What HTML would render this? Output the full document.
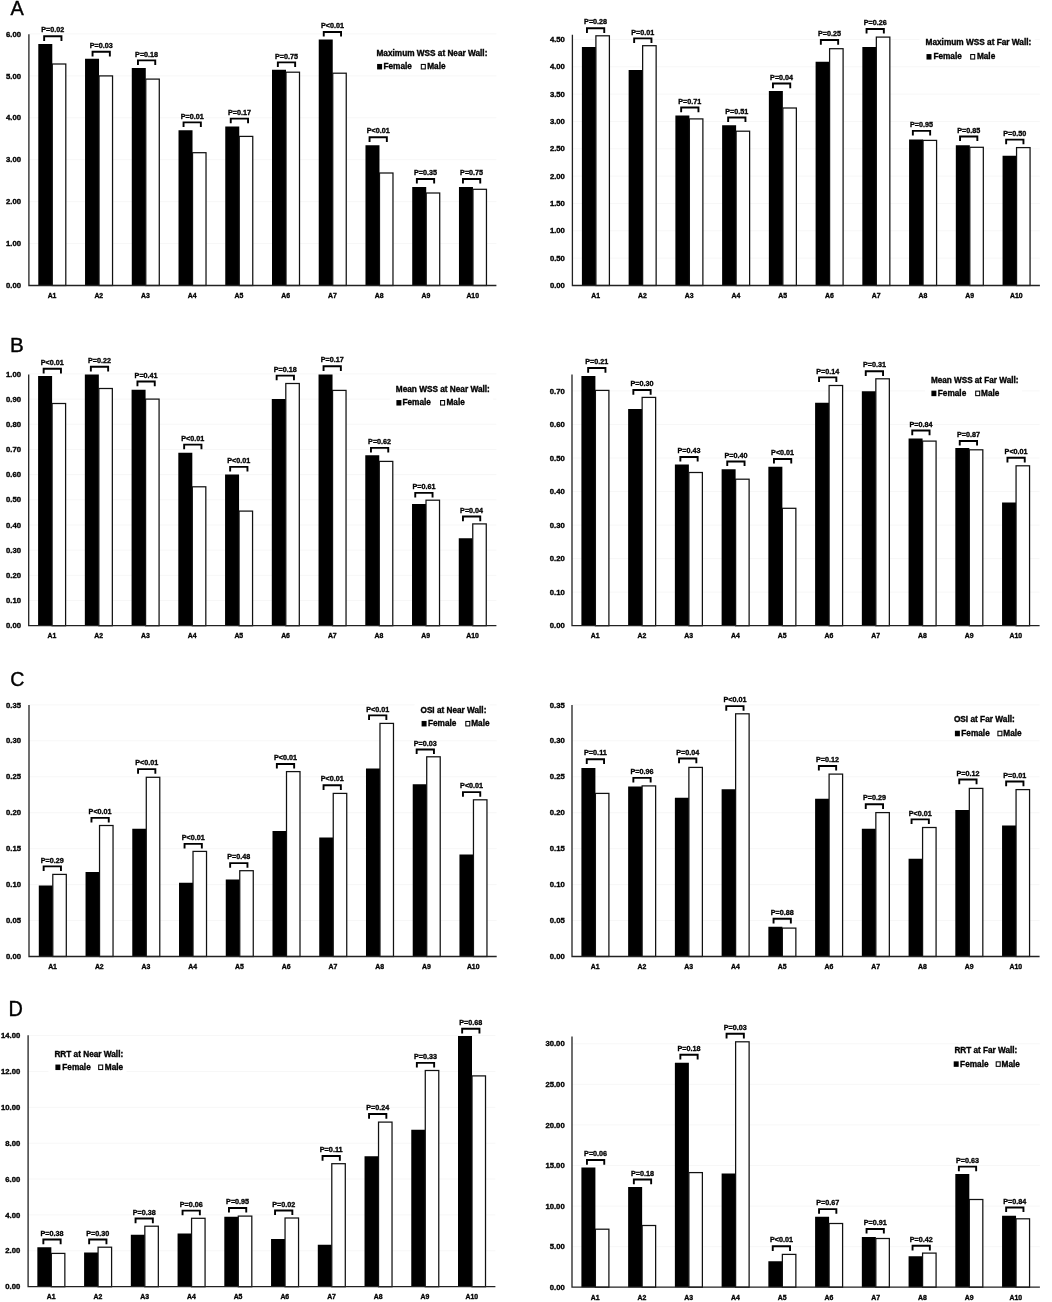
<!DOCTYPE html>
<html><head><meta charset="utf-8"><title>Charts</title>
<style>
html,body{margin:0;padding:0;background:#fff;}
body{width:1052px;height:1302px;overflow:hidden;}
svg{display:block;font-family:"Liberation Sans",sans-serif;font-weight:bold;fill:#000;}
</style></head><body>
<svg width="1052" height="1302" viewBox="0 0 1052 1302">
<rect x="0" y="0" width="1052" height="1302" fill="#fff"/>
<path d="M28.9 243.57H496.4M28.9 201.64H496.4M28.9 159.71H496.4M28.9 117.78H496.4M28.9 75.85H496.4M28.9 33.92H496.4" stroke="#f7f7f7" stroke-width="1.0" fill="none"/>
<rect x="370.5" y="47.75" width="120.3" height="23.95" fill="#fff"/>
<path d="M38.3 285.5V44H52.3V285.5ZM85.04 285.5V58.8H99.04V285.5ZM131.78 285.5V68H145.78V285.5ZM178.52 285.5V130.3H192.52V285.5ZM225.26 285.5V126.5H239.26V285.5ZM272 285.5V69.7H286V285.5ZM318.74 285.5V39.5H332.74V285.5ZM365.48 285.5V145.3H379.48V285.5ZM412.22 285.5V186.9H426.22V285.5ZM458.96 285.5V186.9H472.96V285.5Z" fill="#000"/>
<g fill="#fff" stroke="#111" stroke-width="1.25"><rect x="52.3" y="64" width="13.5" height="221.5"/><rect x="99.04" y="75.9" width="13.5" height="209.6"/><rect x="145.78" y="79.1" width="13.5" height="206.4"/><rect x="192.52" y="152.7" width="13.5" height="132.8"/><rect x="239.26" y="136.4" width="13.5" height="149.1"/><rect x="286" y="72.2" width="13.5" height="213.3"/><rect x="332.74" y="73.2" width="13.5" height="212.3"/><rect x="379.48" y="173" width="13.5" height="112.5"/><rect x="426.22" y="193" width="13.5" height="92.5"/><rect x="472.96" y="189.3" width="13.5" height="96.2"/></g>
<path d="M28.9 34.2V285.5H496.4" stroke="#222" stroke-width="1.3" fill="none"/>
<path d="M44.15 40.9V36.25H61.45V40.9M92.55 56.4V51.75H109.85V56.4M137.95 65V60.35H155.25V65M183.55 127V122.35H200.85V127M230.75 123.3V118.65H248.05V123.3M277.85 67V62.35H295.15V67M323.75 36.6V31.95H341.05V36.6M369.55 141.9V137.25H386.85V141.9M416.85 183.6V178.95H434.15V183.6M462.95 183.6V178.95H480.25V183.6" stroke="#000" stroke-width="1.9" fill="none"/>
<rect x="377.1" y="63.95" width="5" height="5.5" fill="#000"/>
<rect x="421.3" y="64.45" width="4" height="4.5" fill="#fff" stroke="#000" stroke-width="1.05"/>
<path d="M572.4 258.17H1039.9M572.4 230.83H1039.9M572.4 203.5H1039.9M572.4 176.16H1039.9M572.4 148.82H1039.9M572.4 121.49H1039.9M572.4 94.16H1039.9M572.4 66.82H1039.9M572.4 39.48H1039.9" stroke="#f7f7f7" stroke-width="1.0" fill="none"/>
<rect x="919.5" y="36.8" width="115.2" height="25" fill="#fff"/>
<path d="M581.9 285.5V47H595.9V285.5ZM628.64 285.5V69.9H642.64V285.5ZM675.38 285.5V115.4H689.38V285.5ZM722.12 285.5V125.3H736.12V285.5ZM768.86 285.5V91H782.86V285.5ZM815.6 285.5V61.8H829.6V285.5ZM862.34 285.5V47H876.34V285.5ZM909.08 285.5V139.6H923.08V285.5ZM955.82 285.5V145.3H969.82V285.5ZM1002.56 285.5V155.7H1016.56V285.5Z" fill="#000"/>
<g fill="#fff" stroke="#111" stroke-width="1.25"><rect x="595.9" y="35.8" width="13.5" height="249.7"/><rect x="642.64" y="45.7" width="13.5" height="239.8"/><rect x="689.38" y="118.9" width="13.5" height="166.6"/><rect x="736.12" y="131.2" width="13.5" height="154.3"/><rect x="782.86" y="108" width="13.5" height="177.5"/><rect x="829.6" y="48.7" width="13.5" height="236.8"/><rect x="876.34" y="37.1" width="13.5" height="248.4"/><rect x="923.08" y="140.4" width="13.5" height="145.1"/><rect x="969.82" y="147.3" width="13.5" height="138.2"/><rect x="1016.56" y="147.6" width="13.5" height="137.9"/></g>
<path d="M572.4 34.7V285.5H1039.9" stroke="#222" stroke-width="1.3" fill="none"/>
<path d="M586.95 32.9V28.25H604.25V32.9M634.15 43V38.35H651.45V43M681.15 112.2V107.55H698.45V112.2M728.15 122.1V117.45H745.45V122.1M772.95 88.2V83.55H790.25V88.2M820.85 44.7V40.05H838.15V44.7M866.55 33.6V28.95H883.85V33.6M912.85 135.5V130.85H930.15V135.5M960.05 141.1V136.45H977.35V141.1M1006.15 144.3V139.65H1023.45V144.3" stroke="#000" stroke-width="1.9" fill="none"/>
<rect x="926.5" y="54.05" width="5" height="5.5" fill="#000"/>
<rect x="970.7" y="54.55" width="4" height="4.5" fill="#fff" stroke="#000" stroke-width="1.05"/>
<path d="M28.7 600.52H496.4M28.7 575.34H496.4M28.7 550.16H496.4M28.7 524.98H496.4M28.7 499.8H496.4M28.7 474.62H496.4M28.7 449.44H496.4M28.7 424.26H496.4M28.7 399.08H496.4M28.7 373.9H496.4" stroke="#f7f7f7" stroke-width="1.0" fill="none"/>
<rect x="389.8" y="383.2" width="103.4" height="24.6" fill="#fff"/>
<path d="M38.1 625.7V376.1H52.1V625.7ZM84.84 625.7V374.4H98.84V625.7ZM131.58 625.7V389.7H145.58V625.7ZM178.32 625.7V452.7H192.32V625.7ZM225.06 625.7V474.5H239.06V625.7ZM271.8 625.7V399.1H285.8V625.7ZM318.54 625.7V374.4H332.54V625.7ZM365.28 625.7V455.2H379.28V625.7ZM412.02 625.7V503.9H426.02V625.7ZM458.76 625.7V538.2H472.76V625.7Z" fill="#000"/>
<g fill="#fff" stroke="#111" stroke-width="1.25"><rect x="52.1" y="403.5" width="13.5" height="222.2"/><rect x="98.84" y="388.5" width="13.5" height="237.2"/><rect x="145.58" y="399.1" width="13.5" height="226.6"/><rect x="192.32" y="486.8" width="13.5" height="138.9"/><rect x="239.06" y="511.1" width="13.5" height="114.6"/><rect x="285.8" y="383.5" width="13.5" height="242.2"/><rect x="332.54" y="390.4" width="13.5" height="235.3"/><rect x="379.28" y="461.4" width="13.5" height="164.3"/><rect x="426.02" y="500.2" width="13.5" height="125.5"/><rect x="472.76" y="523.9" width="13.5" height="101.8"/></g>
<path d="M28.7 374.4V625.7H496.4" stroke="#222" stroke-width="1.3" fill="none"/>
<path d="M43.65 373.4V368.75H60.95V373.4M90.85 371.4V366.75H108.15V371.4M137.45 386.2V381.55H154.75V386.2M184.15 449.3V444.65H201.45V449.3M230.15 471.5V466.85H247.45V471.5M276.65 380.3V375.65H293.95V380.3M323.55 370.9V366.25H340.85V370.9M370.95 452.5V447.85H388.25V452.5M415.25 497.5V492.85H432.55V497.5M462.95 521.2V516.55H480.25V521.2" stroke="#000" stroke-width="1.9" fill="none"/>
<rect x="396.4" y="400.05" width="5" height="5.5" fill="#000"/>
<rect x="440.6" y="400.55" width="4" height="4.5" fill="#fff" stroke="#000" stroke-width="1.05"/>
<path d="M572 592.16H1039.6M572 558.62H1039.6M572 525.08H1039.6M572 491.54H1039.6M572 458H1039.6M572 424.46H1039.6M572 390.92H1039.6" stroke="#f7f7f7" stroke-width="1.0" fill="none"/>
<rect x="924.9" y="374.1" width="97" height="24.3" fill="#fff"/>
<path d="M581.4 625.7V375.9H595.4V625.7ZM628.14 625.7V409H642.14V625.7ZM674.88 625.7V464.6H688.88V625.7ZM721.62 625.7V469.3H735.62V625.7ZM768.36 625.7V466.8H782.36V625.7ZM815.1 625.7V402.8H829.1V625.7ZM861.84 625.7V391.2H875.84V625.7ZM908.58 625.7V438.4H922.58V625.7ZM955.32 625.7V448H969.32V625.7ZM1002.06 625.7V502.4H1016.06V625.7Z" fill="#000"/>
<g fill="#fff" stroke="#111" stroke-width="1.25"><rect x="595.4" y="390.4" width="13.5" height="235.3"/><rect x="642.14" y="397.4" width="13.5" height="228.3"/><rect x="688.88" y="472.5" width="13.5" height="153.2"/><rect x="735.62" y="479.2" width="13.5" height="146.5"/><rect x="782.36" y="508.3" width="13.5" height="117.4"/><rect x="829.1" y="385.5" width="13.5" height="240.2"/><rect x="875.84" y="378.8" width="13.5" height="246.9"/><rect x="922.58" y="441.1" width="13.5" height="184.6"/><rect x="969.32" y="449.8" width="13.5" height="175.9"/><rect x="1016.06" y="465.8" width="13.5" height="159.9"/></g>
<path d="M572 374.4V625.7H1039.6" stroke="#222" stroke-width="1.3" fill="none"/>
<path d="M588.15 372.7V368.05H605.45V372.7M633.35 394.7V390.05H650.65V394.7M680.35 461.6V456.95H697.65V461.6M727.25 466.1V461.45H744.55V466.1M773.95 463.6V458.95H791.25V463.6M819.05 382V377.35H836.35V382M865.75 375.9V371.25H883.05V375.9M912.25 435.2V430.55H929.55V435.2M959.75 445.6V440.95H977.05V445.6M1007.45 462.4V457.75H1024.75V462.4" stroke="#000" stroke-width="1.9" fill="none"/>
<rect x="931.4" y="390.65" width="5" height="5.5" fill="#000"/>
<rect x="975.7" y="391.15" width="4" height="4.5" fill="#fff" stroke="#000" stroke-width="1.05"/>
<path d="M29 920.55H496.7M29 884.61H496.7M29 848.66H496.7M29 812.72H496.7M29 776.77H496.7M29 740.83H496.7M29 704.88H496.7" stroke="#f7f7f7" stroke-width="1.0" fill="none"/>
<rect x="414.5" y="704.1" width="75.3" height="24.6" fill="#fff"/>
<path d="M38.8 956.5V885.5H52.8V956.5ZM85.54 956.5V871.9H99.54V956.5ZM132.28 956.5V828.7H146.28V956.5ZM179.02 956.5V882.8H193.02V956.5ZM225.76 956.5V879.4H239.76V956.5ZM272.5 956.5V830.9H286.5V956.5ZM319.24 956.5V837.6H333.24V956.5ZM365.98 956.5V768.4H379.98V956.5ZM412.72 956.5V784.2H426.72V956.5ZM459.46 956.5V854.4H473.46V956.5Z" fill="#000"/>
<g fill="#fff" stroke="#111" stroke-width="1.25"><rect x="52.8" y="874.4" width="13.5" height="82.1"/><rect x="99.54" y="825.5" width="13.5" height="131"/><rect x="146.28" y="777.3" width="13.5" height="179.2"/><rect x="193.02" y="851.4" width="13.5" height="105.1"/><rect x="239.76" y="870.7" width="13.5" height="85.8"/><rect x="286.5" y="771.6" width="13.5" height="184.9"/><rect x="333.24" y="793.4" width="13.5" height="163.1"/><rect x="379.98" y="723.4" width="13.5" height="233.1"/><rect x="426.72" y="756.8" width="13.5" height="199.7"/><rect x="473.46" y="799.8" width="13.5" height="156.7"/></g>
<path d="M29 704.9V956.5H496.7" stroke="#222" stroke-width="1.3" fill="none"/>
<path d="M43.65 871V866.35H60.95V871M91.45 822.5V817.85H108.75V822.5M138.05 773.8V769.15H155.35V773.8M184.55 848.5V843.85H201.85V848.5M230.15 867.8V863.15H247.45V867.8M276.85 768.6V763.95H294.15V768.6M323.55 789.9V785.25H340.85V789.9M369.05 720V715.35H386.35V720M416.65 754.1V749.45H433.95V754.1M462.95 796.8V792.15H480.25V796.8" stroke="#000" stroke-width="1.9" fill="none"/>
<rect x="421.6" y="720.95" width="5" height="5.5" fill="#000"/>
<rect x="465.8" y="721.45" width="4" height="4.5" fill="#fff" stroke="#000" stroke-width="1.05"/>
<path d="M572 920.55H1039.6M572 884.61H1039.6M572 848.66H1039.6M572 812.72H1039.6M572 776.77H1039.6M572 740.83H1039.6M572 704.88H1039.6" stroke="#f7f7f7" stroke-width="1.0" fill="none"/>
<rect x="947.9" y="713.9" width="70.3" height="24.6" fill="#fff"/>
<path d="M581.4 956.5V767.9H595.4V956.5ZM628.14 956.5V786.4H642.14V956.5ZM674.88 956.5V797.8H688.88V956.5ZM721.62 956.5V789.2H735.62V956.5ZM768.36 956.5V926.8H782.36V956.5ZM815.1 956.5V798.8H829.1V956.5ZM861.84 956.5V828.7H875.84V956.5ZM908.58 956.5V858.8H922.58V956.5ZM955.32 956.5V809.9H969.32V956.5ZM1002.06 956.5V825.5H1016.06V956.5Z" fill="#000"/>
<g fill="#fff" stroke="#111" stroke-width="1.25"><rect x="595.4" y="793.4" width="13.5" height="163.1"/><rect x="642.14" y="785.9" width="13.5" height="170.6"/><rect x="688.88" y="767.4" width="13.5" height="189.1"/><rect x="735.62" y="713.8" width="13.5" height="242.7"/><rect x="782.36" y="928.1" width="13.5" height="28.4"/><rect x="829.1" y="774.1" width="13.5" height="182.4"/><rect x="875.84" y="812.6" width="13.5" height="143.9"/><rect x="922.58" y="827.5" width="13.5" height="129"/><rect x="969.32" y="788.4" width="13.5" height="168.1"/><rect x="1016.06" y="789.6" width="13.5" height="166.9"/></g>
<path d="M572 704.9V956.5H1039.6" stroke="#222" stroke-width="1.3" fill="none"/>
<path d="M586.75 763.9V759.25H604.05V763.9M633.35 782.5V777.85H650.65V782.5M679.05 763.2V758.55H696.35V763.2M726.25 710.8V706.15H743.55V710.8M773.55 923.4V918.75H790.85V923.4M818.85 770.6V765.95H836.15V770.6M865.75 808.9V804.25H883.05V808.9M911.55 824V819.35H928.85V824M959.25 784.2V779.55H976.55V784.2M1006.15 786.2V781.55H1023.45V786.2" stroke="#000" stroke-width="1.9" fill="none"/>
<rect x="954.9" y="730.75" width="5" height="5.5" fill="#000"/>
<rect x="997.9" y="731.25" width="4" height="4.5" fill="#fff" stroke="#000" stroke-width="1.05"/>
<path d="M28.1 1250.82H495.4M28.1 1214.94H495.4M28.1 1179.06H495.4M28.1 1143.18H495.4M28.1 1107.3H495.4M28.1 1071.42H495.4M28.1 1035.54H495.4" stroke="#f7f7f7" stroke-width="1.0" fill="none"/>
<rect x="48.4" y="1048.2" width="78.2" height="24.1" fill="#fff"/>
<path d="M37.35 1286.7V1247.2H51.35V1286.7ZM84.09 1286.7V1252.6H98.09V1286.7ZM130.83 1286.7V1234.8H144.83V1286.7ZM177.57 1286.7V1233.4H191.57V1286.7ZM224.31 1286.7V1216.8H238.31V1286.7ZM271.05 1286.7V1239H285.05V1286.7ZM317.79 1286.7V1244.7H331.79V1286.7ZM364.53 1286.7V1156.2H378.53V1286.7ZM411.27 1286.7V1129.8H425.27V1286.7ZM458.01 1286.7V1035.9H472.01V1286.7Z" fill="#000"/>
<g fill="#fff" stroke="#111" stroke-width="1.25"><rect x="51.35" y="1253.4" width="13.5" height="33.3"/><rect x="98.09" y="1247.2" width="13.5" height="39.5"/><rect x="144.83" y="1226.2" width="13.5" height="60.5"/><rect x="191.57" y="1218.3" width="13.5" height="68.4"/><rect x="238.31" y="1216.1" width="13.5" height="70.6"/><rect x="285.05" y="1218" width="13.5" height="68.7"/><rect x="331.79" y="1163.7" width="13.5" height="123"/><rect x="378.53" y="1122.1" width="13.5" height="164.6"/><rect x="425.27" y="1070.5" width="13.5" height="216.2"/><rect x="472.01" y="1075.9" width="13.5" height="210.8"/></g>
<path d="M28.1 1035.3V1286.7H495.4" stroke="#222" stroke-width="1.3" fill="none"/>
<path d="M43.35 1244.2V1239.55H60.65V1244.2M89.15 1244.2V1239.55H106.45V1244.2M135.55 1223.2V1218.55H152.85V1223.2M182.55 1215.3V1210.65H199.85V1215.3M228.95 1212.6V1207.95H246.25V1212.6M275.05 1215.1V1210.45H292.35V1215.1M322.55 1160.7V1156.05H339.85V1160.7M369.05 1118.7V1114.05H386.35V1118.7M416.85 1067.5V1062.85H434.15V1067.5M462.15 1033.4V1028.75H479.45V1033.4" stroke="#000" stroke-width="1.9" fill="none"/>
<rect x="55.4" y="1064.55" width="5" height="5.5" fill="#000"/>
<rect x="98.7" y="1065.05" width="4" height="4.5" fill="#fff" stroke="#000" stroke-width="1.05"/>
<path d="M572 1246.63H1039.9M572 1206.07H1039.9M572 1165.51H1039.9M572 1124.94H1039.9M572 1084.38H1039.9M572 1043.81H1039.9" stroke="#f7f7f7" stroke-width="1.0" fill="none"/>
<rect x="948.4" y="1044.7" width="72.3" height="24.4" fill="#fff"/>
<path d="M581.4 1287.2V1167.4H595.4V1287.2ZM628.14 1287.2V1187.1H642.14V1287.2ZM674.88 1287.2V1062.8H688.88V1287.2ZM721.62 1287.2V1173.5H735.62V1287.2ZM768.36 1287.2V1261.3H782.36V1287.2ZM815.1 1287.2V1216.8H829.1V1287.2ZM861.84 1287.2V1237.1H875.84V1287.2ZM908.58 1287.2V1256.3H922.58V1287.2ZM955.32 1287.2V1174H969.32V1287.2ZM1002.06 1287.2V1215.8H1016.06V1287.2Z" fill="#000"/>
<g fill="#fff" stroke="#111" stroke-width="1.25"><rect x="595.4" y="1229.2" width="13.5" height="58"/><rect x="642.14" y="1225.5" width="13.5" height="61.7"/><rect x="688.88" y="1172.6" width="13.5" height="114.6"/><rect x="735.62" y="1041.8" width="13.5" height="245.4"/><rect x="782.36" y="1254.4" width="13.5" height="32.8"/><rect x="829.1" y="1223.5" width="13.5" height="63.7"/><rect x="875.84" y="1238.5" width="13.5" height="48.7"/><rect x="922.58" y="1253.1" width="13.5" height="34.1"/><rect x="969.32" y="1199.5" width="13.5" height="87.7"/><rect x="1016.06" y="1218.8" width="13.5" height="68.4"/></g>
<path d="M572 1036.4V1287.2H1039.9" stroke="#222" stroke-width="1.3" fill="none"/>
<path d="M586.95 1164.7V1160.05H604.25V1164.7M633.85 1184.2V1179.55H651.15V1184.2M680.35 1059.4V1054.75H697.65V1059.4M726.55 1038.4V1033.75H743.85V1038.4M772.75 1250.9V1246.25H790.05V1250.9M819.05 1213.8V1209.15H836.35V1213.8M866.55 1233.6V1228.95H883.85V1233.6M912.55 1250.4V1245.75H929.85V1250.4M958.85 1171.3V1166.65H976.15V1171.3M1006.15 1212.1V1207.45H1023.45V1212.1" stroke="#000" stroke-width="1.9" fill="none"/>
<rect x="953.7" y="1061.35" width="5" height="5.5" fill="#000"/>
<rect x="996.2" y="1061.85" width="4" height="4.5" fill="#fff" stroke="#000" stroke-width="1.05"/>
<g style="will-change:transform" stroke="#000" stroke-width="0.36">
<g font-size="7.7" text-anchor="end"><text x="21" y="288.15">0.00</text><text x="21" y="246.22">1.00</text><text x="21" y="204.29">2.00</text><text x="21" y="162.36">3.00</text><text x="21" y="120.43">4.00</text><text x="21" y="78.5">5.00</text><text x="21" y="36.57">6.00</text></g>
<g font-size="7.5" text-anchor="middle"><text x="52.05" y="298.28" textLength="8.82" lengthAdjust="spacingAndGlyphs">A1</text><text x="98.79" y="298.28" textLength="8.82" lengthAdjust="spacingAndGlyphs">A2</text><text x="145.53" y="298.28" textLength="8.82" lengthAdjust="spacingAndGlyphs">A3</text><text x="192.27" y="298.28" textLength="8.82" lengthAdjust="spacingAndGlyphs">A4</text><text x="239.01" y="298.28" textLength="8.82" lengthAdjust="spacingAndGlyphs">A5</text><text x="285.75" y="298.28" textLength="8.82" lengthAdjust="spacingAndGlyphs">A6</text><text x="332.49" y="298.28" textLength="8.82" lengthAdjust="spacingAndGlyphs">A7</text><text x="379.23" y="298.28" textLength="8.82" lengthAdjust="spacingAndGlyphs">A8</text><text x="425.97" y="298.28" textLength="8.82" lengthAdjust="spacingAndGlyphs">A9</text><text x="472.71" y="298.28" textLength="12.66" lengthAdjust="spacingAndGlyphs">A10</text></g>
<g font-size="8.0" text-anchor="middle"><text x="52.8" y="32.4" textLength="23" lengthAdjust="spacingAndGlyphs">P=0.02</text><text x="101.2" y="47.9" textLength="23" lengthAdjust="spacingAndGlyphs">P=0.03</text><text x="146.6" y="56.5" textLength="23" lengthAdjust="spacingAndGlyphs">P=0.18</text><text x="192.2" y="118.5" textLength="23" lengthAdjust="spacingAndGlyphs">P=0.01</text><text x="239.4" y="114.8" textLength="23" lengthAdjust="spacingAndGlyphs">P=0.17</text><text x="286.5" y="58.5" textLength="23" lengthAdjust="spacingAndGlyphs">P=0.75</text><text x="332.4" y="28.1" textLength="23" lengthAdjust="spacingAndGlyphs">P&lt;0.01</text><text x="378.2" y="133.4" textLength="23" lengthAdjust="spacingAndGlyphs">P&lt;0.01</text><text x="425.5" y="175.1" textLength="23" lengthAdjust="spacingAndGlyphs">P=0.35</text><text x="471.6" y="175.1" textLength="23" lengthAdjust="spacingAndGlyphs">P=0.75</text></g>
<text x="376.5" y="56.31" font-size="8.6" textLength="110.9" lengthAdjust="spacingAndGlyphs">Maximum WSS at Near Wall:</text>
<text x="383.5" y="69.39" font-size="8.7" textLength="28.43" lengthAdjust="spacingAndGlyphs">Female</text>
<text x="427.2" y="69.39" font-size="8.7" textLength="18.34" lengthAdjust="spacingAndGlyphs">Male</text>
<g font-size="7.7" text-anchor="end"><text x="564.9" y="288.15">0.00</text><text x="564.9" y="260.81">0.50</text><text x="564.9" y="233.48">1.00</text><text x="564.9" y="206.14">1.50</text><text x="564.9" y="178.81">2.00</text><text x="564.9" y="151.47">2.50</text><text x="564.9" y="124.14">3.00</text><text x="564.9" y="96.8">3.50</text><text x="564.9" y="69.47">4.00</text><text x="564.9" y="42.13">4.50</text></g>
<g font-size="7.5" text-anchor="middle"><text x="595.65" y="298.28" textLength="8.82" lengthAdjust="spacingAndGlyphs">A1</text><text x="642.39" y="298.28" textLength="8.82" lengthAdjust="spacingAndGlyphs">A2</text><text x="689.13" y="298.28" textLength="8.82" lengthAdjust="spacingAndGlyphs">A3</text><text x="735.87" y="298.28" textLength="8.82" lengthAdjust="spacingAndGlyphs">A4</text><text x="782.61" y="298.28" textLength="8.82" lengthAdjust="spacingAndGlyphs">A5</text><text x="829.35" y="298.28" textLength="8.82" lengthAdjust="spacingAndGlyphs">A6</text><text x="876.09" y="298.28" textLength="8.82" lengthAdjust="spacingAndGlyphs">A7</text><text x="922.83" y="298.28" textLength="8.82" lengthAdjust="spacingAndGlyphs">A8</text><text x="969.57" y="298.28" textLength="8.82" lengthAdjust="spacingAndGlyphs">A9</text><text x="1016.31" y="298.28" textLength="12.66" lengthAdjust="spacingAndGlyphs">A10</text></g>
<g font-size="8.0" text-anchor="middle"><text x="595.6" y="24.4" textLength="23" lengthAdjust="spacingAndGlyphs">P=0.28</text><text x="642.8" y="34.5" textLength="23" lengthAdjust="spacingAndGlyphs">P=0.01</text><text x="689.8" y="103.7" textLength="23" lengthAdjust="spacingAndGlyphs">P=0.71</text><text x="736.8" y="113.6" textLength="23" lengthAdjust="spacingAndGlyphs">P=0.51</text><text x="781.6" y="79.7" textLength="23" lengthAdjust="spacingAndGlyphs">P=0.04</text><text x="829.5" y="36.2" textLength="23" lengthAdjust="spacingAndGlyphs">P=0.25</text><text x="875.2" y="25.1" textLength="23" lengthAdjust="spacingAndGlyphs">P=0.26</text><text x="921.5" y="127" textLength="23" lengthAdjust="spacingAndGlyphs">P=0.95</text><text x="968.7" y="132.6" textLength="23" lengthAdjust="spacingAndGlyphs">P=0.85</text><text x="1014.8" y="135.8" textLength="23" lengthAdjust="spacingAndGlyphs">P=0.50</text></g>
<text x="925.5" y="45.36" font-size="8.6" textLength="105.8" lengthAdjust="spacingAndGlyphs">Maximum WSS at Far Wall:</text>
<text x="933.4" y="59.49" font-size="8.7" textLength="28.43" lengthAdjust="spacingAndGlyphs">Female</text>
<text x="976.9" y="59.49" font-size="8.7" textLength="18.34" lengthAdjust="spacingAndGlyphs">Male</text>
<g font-size="7.7" text-anchor="end"><text x="21" y="628.35">0.00</text><text x="21" y="603.17">0.10</text><text x="21" y="577.99">0.20</text><text x="21" y="552.81">0.30</text><text x="21" y="527.63">0.40</text><text x="21" y="502.45">0.50</text><text x="21" y="477.27">0.60</text><text x="21" y="452.09">0.70</text><text x="21" y="426.91">0.80</text><text x="21" y="401.73">0.90</text><text x="21" y="376.55">1.00</text></g>
<g font-size="7.5" text-anchor="middle"><text x="51.85" y="638.48" textLength="8.82" lengthAdjust="spacingAndGlyphs">A1</text><text x="98.59" y="638.48" textLength="8.82" lengthAdjust="spacingAndGlyphs">A2</text><text x="145.33" y="638.48" textLength="8.82" lengthAdjust="spacingAndGlyphs">A3</text><text x="192.07" y="638.48" textLength="8.82" lengthAdjust="spacingAndGlyphs">A4</text><text x="238.81" y="638.48" textLength="8.82" lengthAdjust="spacingAndGlyphs">A5</text><text x="285.55" y="638.48" textLength="8.82" lengthAdjust="spacingAndGlyphs">A6</text><text x="332.29" y="638.48" textLength="8.82" lengthAdjust="spacingAndGlyphs">A7</text><text x="379.03" y="638.48" textLength="8.82" lengthAdjust="spacingAndGlyphs">A8</text><text x="425.77" y="638.48" textLength="8.82" lengthAdjust="spacingAndGlyphs">A9</text><text x="472.51" y="638.48" textLength="12.66" lengthAdjust="spacingAndGlyphs">A10</text></g>
<g font-size="8.0" text-anchor="middle"><text x="52.3" y="364.9" textLength="23" lengthAdjust="spacingAndGlyphs">P&lt;0.01</text><text x="99.5" y="362.9" textLength="23" lengthAdjust="spacingAndGlyphs">P=0.22</text><text x="146.1" y="377.7" textLength="23" lengthAdjust="spacingAndGlyphs">P=0.41</text><text x="192.8" y="440.8" textLength="23" lengthAdjust="spacingAndGlyphs">P&lt;0.01</text><text x="238.8" y="463" textLength="23" lengthAdjust="spacingAndGlyphs">P&lt;0.01</text><text x="285.3" y="371.8" textLength="23" lengthAdjust="spacingAndGlyphs">P=0.18</text><text x="332.2" y="362.4" textLength="23" lengthAdjust="spacingAndGlyphs">P=0.17</text><text x="379.6" y="444" textLength="23" lengthAdjust="spacingAndGlyphs">P=0.62</text><text x="423.9" y="489" textLength="23" lengthAdjust="spacingAndGlyphs">P=0.61</text><text x="471.6" y="512.7" textLength="23" lengthAdjust="spacingAndGlyphs">P=0.04</text></g>
<text x="395.8" y="391.76" font-size="8.6" textLength="94" lengthAdjust="spacingAndGlyphs">Mean WSS at Near Wall:</text>
<text x="402.5" y="405.49" font-size="8.7" textLength="28.43" lengthAdjust="spacingAndGlyphs">Female</text>
<text x="446.5" y="405.49" font-size="8.7" textLength="18.34" lengthAdjust="spacingAndGlyphs">Male</text>
<g font-size="7.7" text-anchor="end"><text x="564.8" y="628.35">0.00</text><text x="564.8" y="594.81">0.10</text><text x="564.8" y="561.27">0.20</text><text x="564.8" y="527.73">0.30</text><text x="564.8" y="494.19">0.40</text><text x="564.8" y="460.65">0.50</text><text x="564.8" y="427.11">0.60</text><text x="564.8" y="393.57">0.70</text></g>
<g font-size="7.5" text-anchor="middle"><text x="595.15" y="638.48" textLength="8.82" lengthAdjust="spacingAndGlyphs">A1</text><text x="641.89" y="638.48" textLength="8.82" lengthAdjust="spacingAndGlyphs">A2</text><text x="688.63" y="638.48" textLength="8.82" lengthAdjust="spacingAndGlyphs">A3</text><text x="735.37" y="638.48" textLength="8.82" lengthAdjust="spacingAndGlyphs">A4</text><text x="782.11" y="638.48" textLength="8.82" lengthAdjust="spacingAndGlyphs">A5</text><text x="828.85" y="638.48" textLength="8.82" lengthAdjust="spacingAndGlyphs">A6</text><text x="875.59" y="638.48" textLength="8.82" lengthAdjust="spacingAndGlyphs">A7</text><text x="922.33" y="638.48" textLength="8.82" lengthAdjust="spacingAndGlyphs">A8</text><text x="969.07" y="638.48" textLength="8.82" lengthAdjust="spacingAndGlyphs">A9</text><text x="1015.81" y="638.48" textLength="12.66" lengthAdjust="spacingAndGlyphs">A10</text></g>
<g font-size="8.0" text-anchor="middle"><text x="596.8" y="364.2" textLength="23" lengthAdjust="spacingAndGlyphs">P=0.21</text><text x="642" y="386.2" textLength="23" lengthAdjust="spacingAndGlyphs">P=0.30</text><text x="689" y="453.1" textLength="23" lengthAdjust="spacingAndGlyphs">P=0.43</text><text x="735.9" y="457.6" textLength="23" lengthAdjust="spacingAndGlyphs">P=0.40</text><text x="782.6" y="455.1" textLength="23" lengthAdjust="spacingAndGlyphs">P&lt;0.01</text><text x="827.7" y="373.5" textLength="23" lengthAdjust="spacingAndGlyphs">P=0.14</text><text x="874.4" y="367.4" textLength="23" lengthAdjust="spacingAndGlyphs">P=0.31</text><text x="920.9" y="426.7" textLength="23" lengthAdjust="spacingAndGlyphs">P=0.84</text><text x="968.4" y="437.1" textLength="23" lengthAdjust="spacingAndGlyphs">P=0.87</text><text x="1016.1" y="453.9" textLength="23" lengthAdjust="spacingAndGlyphs">P&lt;0.01</text></g>
<text x="930.9" y="382.66" font-size="8.6" textLength="87.6" lengthAdjust="spacingAndGlyphs">Mean WSS at Far Wall:</text>
<text x="937.8" y="396.09" font-size="8.7" textLength="28.43" lengthAdjust="spacingAndGlyphs">Female</text>
<text x="981.1" y="396.09" font-size="8.7" textLength="18.34" lengthAdjust="spacingAndGlyphs">Male</text>
<g font-size="7.7" text-anchor="end"><text x="21" y="959.15">0.00</text><text x="21" y="923.2">0.05</text><text x="21" y="887.26">0.10</text><text x="21" y="851.31">0.15</text><text x="21" y="815.37">0.20</text><text x="21" y="779.42">0.25</text><text x="21" y="743.48">0.30</text><text x="21" y="707.53">0.35</text></g>
<g font-size="7.5" text-anchor="middle"><text x="52.55" y="969.28" textLength="8.82" lengthAdjust="spacingAndGlyphs">A1</text><text x="99.29" y="969.28" textLength="8.82" lengthAdjust="spacingAndGlyphs">A2</text><text x="146.03" y="969.28" textLength="8.82" lengthAdjust="spacingAndGlyphs">A3</text><text x="192.77" y="969.28" textLength="8.82" lengthAdjust="spacingAndGlyphs">A4</text><text x="239.51" y="969.28" textLength="8.82" lengthAdjust="spacingAndGlyphs">A5</text><text x="286.25" y="969.28" textLength="8.82" lengthAdjust="spacingAndGlyphs">A6</text><text x="332.99" y="969.28" textLength="8.82" lengthAdjust="spacingAndGlyphs">A7</text><text x="379.73" y="969.28" textLength="8.82" lengthAdjust="spacingAndGlyphs">A8</text><text x="426.47" y="969.28" textLength="8.82" lengthAdjust="spacingAndGlyphs">A9</text><text x="473.21" y="969.28" textLength="12.66" lengthAdjust="spacingAndGlyphs">A10</text></g>
<g font-size="8.0" text-anchor="middle"><text x="52.3" y="862.5" textLength="23" lengthAdjust="spacingAndGlyphs">P=0.29</text><text x="100.1" y="814" textLength="23" lengthAdjust="spacingAndGlyphs">P&lt;0.01</text><text x="146.7" y="765.3" textLength="23" lengthAdjust="spacingAndGlyphs">P&lt;0.01</text><text x="193.2" y="840" textLength="23" lengthAdjust="spacingAndGlyphs">P&lt;0.01</text><text x="238.8" y="859.3" textLength="23" lengthAdjust="spacingAndGlyphs">P=0.48</text><text x="285.5" y="760.1" textLength="23" lengthAdjust="spacingAndGlyphs">P&lt;0.01</text><text x="332.2" y="781.4" textLength="23" lengthAdjust="spacingAndGlyphs">P&lt;0.01</text><text x="377.7" y="711.5" textLength="23" lengthAdjust="spacingAndGlyphs">P&lt;0.01</text><text x="425.3" y="745.6" textLength="23" lengthAdjust="spacingAndGlyphs">P=0.03</text><text x="471.6" y="788.3" textLength="23" lengthAdjust="spacingAndGlyphs">P&lt;0.01</text></g>
<text x="420.5" y="712.66" font-size="8.6" textLength="65.9" lengthAdjust="spacingAndGlyphs">OSI at Near Wall:</text>
<text x="428" y="726.39" font-size="8.7" textLength="28.43" lengthAdjust="spacingAndGlyphs">Female</text>
<text x="471.2" y="726.39" font-size="8.7" textLength="18.34" lengthAdjust="spacingAndGlyphs">Male</text>
<g font-size="7.7" text-anchor="end"><text x="564.8" y="959.15">0.00</text><text x="564.8" y="923.2">0.05</text><text x="564.8" y="887.26">0.10</text><text x="564.8" y="851.31">0.15</text><text x="564.8" y="815.37">0.20</text><text x="564.8" y="779.42">0.25</text><text x="564.8" y="743.48">0.30</text><text x="564.8" y="707.53">0.35</text></g>
<g font-size="7.5" text-anchor="middle"><text x="595.15" y="969.28" textLength="8.82" lengthAdjust="spacingAndGlyphs">A1</text><text x="641.89" y="969.28" textLength="8.82" lengthAdjust="spacingAndGlyphs">A2</text><text x="688.63" y="969.28" textLength="8.82" lengthAdjust="spacingAndGlyphs">A3</text><text x="735.37" y="969.28" textLength="8.82" lengthAdjust="spacingAndGlyphs">A4</text><text x="782.11" y="969.28" textLength="8.82" lengthAdjust="spacingAndGlyphs">A5</text><text x="828.85" y="969.28" textLength="8.82" lengthAdjust="spacingAndGlyphs">A6</text><text x="875.59" y="969.28" textLength="8.82" lengthAdjust="spacingAndGlyphs">A7</text><text x="922.33" y="969.28" textLength="8.82" lengthAdjust="spacingAndGlyphs">A8</text><text x="969.07" y="969.28" textLength="8.82" lengthAdjust="spacingAndGlyphs">A9</text><text x="1015.81" y="969.28" textLength="12.66" lengthAdjust="spacingAndGlyphs">A10</text></g>
<g font-size="8.0" text-anchor="middle"><text x="595.4" y="755.4" textLength="23" lengthAdjust="spacingAndGlyphs">P=0.11</text><text x="642" y="774" textLength="23" lengthAdjust="spacingAndGlyphs">P=0.96</text><text x="687.7" y="754.7" textLength="23" lengthAdjust="spacingAndGlyphs">P=0.04</text><text x="734.9" y="702.3" textLength="23" lengthAdjust="spacingAndGlyphs">P&lt;0.01</text><text x="782.2" y="914.9" textLength="23" lengthAdjust="spacingAndGlyphs">P=0.88</text><text x="827.5" y="762.1" textLength="23" lengthAdjust="spacingAndGlyphs">P=0.12</text><text x="874.4" y="800.4" textLength="23" lengthAdjust="spacingAndGlyphs">P=0.29</text><text x="920.2" y="815.5" textLength="23" lengthAdjust="spacingAndGlyphs">P&lt;0.01</text><text x="967.9" y="775.7" textLength="23" lengthAdjust="spacingAndGlyphs">P=0.12</text><text x="1014.8" y="777.7" textLength="23" lengthAdjust="spacingAndGlyphs">P=0.01</text></g>
<text x="953.9" y="722.46" font-size="8.6" textLength="60.9" lengthAdjust="spacingAndGlyphs">OSI at Far Wall:</text>
<text x="961.3" y="736.19" font-size="8.7" textLength="28.43" lengthAdjust="spacingAndGlyphs">Female</text>
<text x="1003.3" y="736.19" font-size="8.7" textLength="18.34" lengthAdjust="spacingAndGlyphs">Male</text>
<g font-size="7.7" text-anchor="end"><text x="20.3" y="1289.35">0.00</text><text x="20.3" y="1253.47">2.00</text><text x="20.3" y="1217.59">4.00</text><text x="20.3" y="1181.71">6.00</text><text x="20.3" y="1145.83">8.00</text><text x="20.3" y="1109.95">10.00</text><text x="20.3" y="1074.07">12.00</text><text x="20.3" y="1038.19">14.00</text></g>
<g font-size="7.5" text-anchor="middle"><text x="51.1" y="1299.48" textLength="8.82" lengthAdjust="spacingAndGlyphs">A1</text><text x="97.84" y="1299.48" textLength="8.82" lengthAdjust="spacingAndGlyphs">A2</text><text x="144.58" y="1299.48" textLength="8.82" lengthAdjust="spacingAndGlyphs">A3</text><text x="191.32" y="1299.48" textLength="8.82" lengthAdjust="spacingAndGlyphs">A4</text><text x="238.06" y="1299.48" textLength="8.82" lengthAdjust="spacingAndGlyphs">A5</text><text x="284.8" y="1299.48" textLength="8.82" lengthAdjust="spacingAndGlyphs">A6</text><text x="331.54" y="1299.48" textLength="8.82" lengthAdjust="spacingAndGlyphs">A7</text><text x="378.28" y="1299.48" textLength="8.82" lengthAdjust="spacingAndGlyphs">A8</text><text x="425.02" y="1299.48" textLength="8.82" lengthAdjust="spacingAndGlyphs">A9</text><text x="471.76" y="1299.48" textLength="12.66" lengthAdjust="spacingAndGlyphs">A10</text></g>
<g font-size="8.0" text-anchor="middle"><text x="52" y="1235.7" textLength="23" lengthAdjust="spacingAndGlyphs">P=0.38</text><text x="97.8" y="1235.7" textLength="23" lengthAdjust="spacingAndGlyphs">P=0.30</text><text x="144.2" y="1214.7" textLength="23" lengthAdjust="spacingAndGlyphs">P=0.38</text><text x="191.2" y="1206.8" textLength="23" lengthAdjust="spacingAndGlyphs">P=0.06</text><text x="237.6" y="1204.1" textLength="23" lengthAdjust="spacingAndGlyphs">P=0.95</text><text x="283.7" y="1206.6" textLength="23" lengthAdjust="spacingAndGlyphs">P=0.02</text><text x="331.2" y="1152.2" textLength="23" lengthAdjust="spacingAndGlyphs">P=0.11</text><text x="377.7" y="1110.2" textLength="23" lengthAdjust="spacingAndGlyphs">P=0.24</text><text x="425.5" y="1059" textLength="23" lengthAdjust="spacingAndGlyphs">P=0.33</text><text x="470.8" y="1024.9" textLength="23" lengthAdjust="spacingAndGlyphs">P=0.68</text></g>
<text x="54.4" y="1056.76" font-size="8.6" textLength="68.8" lengthAdjust="spacingAndGlyphs">RRT at Near Wall:</text>
<text x="62.3" y="1069.99" font-size="8.7" textLength="28.43" lengthAdjust="spacingAndGlyphs">Female</text>
<text x="104.8" y="1069.99" font-size="8.7" textLength="18.34" lengthAdjust="spacingAndGlyphs">Male</text>
<g font-size="7.7" text-anchor="end"><text x="564.7" y="1289.85">0.00</text><text x="564.7" y="1249.28">5.00</text><text x="564.7" y="1208.72">10.00</text><text x="564.7" y="1168.15">15.00</text><text x="564.7" y="1127.59">20.00</text><text x="564.7" y="1087.02">25.00</text><text x="564.7" y="1046.46">30.00</text></g>
<g font-size="7.5" text-anchor="middle"><text x="595.15" y="1299.98" textLength="8.82" lengthAdjust="spacingAndGlyphs">A1</text><text x="641.89" y="1299.98" textLength="8.82" lengthAdjust="spacingAndGlyphs">A2</text><text x="688.63" y="1299.98" textLength="8.82" lengthAdjust="spacingAndGlyphs">A3</text><text x="735.37" y="1299.98" textLength="8.82" lengthAdjust="spacingAndGlyphs">A4</text><text x="782.11" y="1299.98" textLength="8.82" lengthAdjust="spacingAndGlyphs">A5</text><text x="828.85" y="1299.98" textLength="8.82" lengthAdjust="spacingAndGlyphs">A6</text><text x="875.59" y="1299.98" textLength="8.82" lengthAdjust="spacingAndGlyphs">A7</text><text x="922.33" y="1299.98" textLength="8.82" lengthAdjust="spacingAndGlyphs">A8</text><text x="969.07" y="1299.98" textLength="8.82" lengthAdjust="spacingAndGlyphs">A9</text><text x="1015.81" y="1299.98" textLength="12.66" lengthAdjust="spacingAndGlyphs">A10</text></g>
<g font-size="8.0" text-anchor="middle"><text x="595.6" y="1156.2" textLength="23" lengthAdjust="spacingAndGlyphs">P=0.06</text><text x="642.5" y="1175.7" textLength="23" lengthAdjust="spacingAndGlyphs">P=0.18</text><text x="689" y="1050.9" textLength="23" lengthAdjust="spacingAndGlyphs">P=0.18</text><text x="735.2" y="1029.9" textLength="23" lengthAdjust="spacingAndGlyphs">P=0.03</text><text x="781.4" y="1242.4" textLength="23" lengthAdjust="spacingAndGlyphs">P&lt;0.01</text><text x="827.7" y="1205.3" textLength="23" lengthAdjust="spacingAndGlyphs">P=0.67</text><text x="875.2" y="1225.1" textLength="23" lengthAdjust="spacingAndGlyphs">P=0.91</text><text x="921.2" y="1241.9" textLength="23" lengthAdjust="spacingAndGlyphs">P=0.42</text><text x="967.5" y="1162.8" textLength="23" lengthAdjust="spacingAndGlyphs">P=0.63</text><text x="1014.8" y="1203.6" textLength="23" lengthAdjust="spacingAndGlyphs">P=0.84</text></g>
<text x="954.4" y="1053.26" font-size="8.6" textLength="62.9" lengthAdjust="spacingAndGlyphs">RRT at Far Wall:</text>
<text x="960.1" y="1066.79" font-size="8.7" textLength="28.43" lengthAdjust="spacingAndGlyphs">Female</text>
<text x="1001.6" y="1066.79" font-size="8.7" textLength="18.34" lengthAdjust="spacingAndGlyphs">Male</text>
<text transform="translate(10.41,15.25) scale(0.992,1)" font-size="20.06" font-weight="normal" stroke="#000" stroke-width="0.4">A</text>
<text transform="translate(9.95,351.65) scale(1.053,1)" font-size="19.62" font-weight="normal" stroke="#000" stroke-width="0.4">B</text>
<text transform="translate(10.36,685.75) scale(0.956,1)" font-size="20.48" font-weight="normal" stroke="#000" stroke-width="0.4">C</text>
<text transform="translate(8.42,1016.35) scale(0.932,1)" font-size="21.37" font-weight="normal" stroke="#000" stroke-width="0.4">D</text>
</g>
</svg>
</body></html>
